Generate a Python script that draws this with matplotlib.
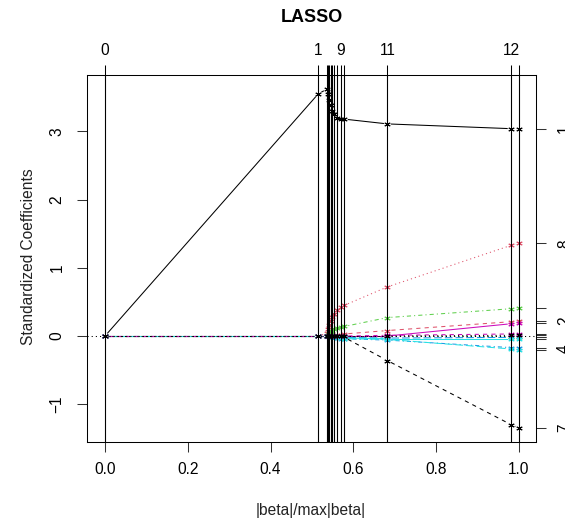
import numpy as np
import matplotlib.pyplot as plt

plt.rcParams['font.family'] = ['Liberation Sans', 'DejaVu Sans']
plt.rcParams['lines.scale_dashes'] = False

# lars steps (|beta|/max|beta|) and number of variables at each step
steps = [0, 0.515, 0.536, 0.539, 0.542, 0.545, 0.548, 0.553, 0.560, 0.569, 0.578, 0.682, 0.981, 1.0]
df = list(range(14))
df_shown = [0, 1, 9, 11, 12]

# standardized coefficients of the 13 variables along the path
b1 = [0, 3.55, 3.62, 3.55, 3.46, 3.38, 3.30, 3.25, 3.19, 3.18, 3.18, 3.11, 3.04, 3.04]
b2 = [0, 0, 0, 0, 0, 0, 0, 0, 0.01, 0.02, 0.03, 0.08, 0.21, 0.22]
b3 = [0, 0, 0, 0, 0, 0, 0, 0, 0, 0, 0, 0.0, -0.01, -0.01]
b4 = [0, 0, 0, 0, 0, -0.01, -0.02, -0.03, -0.03, -0.04, -0.04, -0.06, -0.17, -0.18]
b5 = [0, 0, 0, 0, 0, 0, -0.01, -0.02, -0.03, -0.03, -0.04, -0.05, -0.19, -0.20]
b6 = [0, 0, 0, 0, 0, 0, 0, 0, 0, 0, 0, 0.0, 0.18, 0.19]
b7 = [0, 0, 0, 0, 0, 0, 0, 0, 0, 0, -0.02, -0.36, -1.30, -1.35]
b8 = [0, 0, 0.04, 0.10, 0.16, 0.22, 0.28, 0.33, 0.38, 0.42, 0.45, 0.72, 1.33, 1.36]
b9 = [0, 0, 0, 0.02, 0.04, 0.06, 0.08, 0.10, 0.12, 0.13, 0.14, 0.27, 0.40, 0.41]
b10 = [0, 0, 0, 0, 0, 0, 0, -0.01, -0.01, -0.02, -0.02, -0.03, -0.02, -0.02]
b11 = [0, 0, 0, 0, 0, 0, 0, 0, -0.01, -0.02, -0.03, -0.04, -0.04, -0.05]
b12 = [0, 0, 0, 0, 0, 0, 0, 0, 0, 0, 0, 0.01, 0.03, 0.03]
b13 = [0, 0, 0, 0, 0, 0, 0, 0, 0, 0, 0, 0, 0.01, 0.01]
coefs = [b1, b2, b3, b4, b5, b6, b7, b8, b9, b10, b11, b12, b13]

# labels that R managed to draw on the right axis
right_shown = [1, 2, 4, 7, 8]

r_cols = ['black', '#DF536B', '#61D04F', '#2297E6', '#28E2E5', '#CD0BBC']
r_ltys = ['-', (0, (3, 3)), (0, (0.8, 2.2)), (0, (0.8, 2.2, 3, 2.2)), (0, (5.5, 2.2))]

W, H = 565, 521
fig = plt.figure(figsize=(W / 100, H / 100), dpi=100)
ax = fig.add_axes([87 / W, 1 - 442 / H, (536 - 87) / W, (442 - 75) / H])
ax.set_xlim(-0.0435, 1.041)
ax.set_ylim(-1.554, 3.827)


def gapped(x, y, gap=4):
    # R type="b": lines stop short of each point
    pts = ax.transData.transform(np.column_stack([x, y]))
    inv = ax.transData.inverted()
    segs = []
    for p, q in zip(pts[:-1], pts[1:]):
        d = q - p
        L = np.hypot(d[0], d[1])
        if L <= 2 * gap:
            continue
        u = d / L
        segs.append(inv.transform([p + u * gap, q - u * gap]))
    return segs


for i, b in enumerate(coefs):
    col = r_cols[i % 6]
    ls = r_ltys[i % 5]
    for seg in gapped(steps, b):
        ax.plot(seg[:, 0], seg[:, 1], color=col, ls=ls, lw=0.75, zorder=2)
    ax.plot(steps, b, ls='none', marker=(6, 2, 0), ms=4.5, mew=0.7, color=col, zorder=3)

ax.axhline(0, color='black', ls=(0, (0.8, 2.2)), lw=0.75, zorder=2)
for s in steps:
    ax.axvline(s, color='black', lw=0.8, zorder=4)

for sp in ax.spines.values():
    sp.set_linewidth(0.75)

xt = [0, 0.2, 0.4, 0.6, 0.8, 1.0]
ax.set_xticks(xt, ['%.1f' % v for v in xt])
ax.set_yticks([-1, 0, 1, 2, 3])
ax.tick_params(direction='out', length=7.2, width=0.75, labelsize=11.2, color='#333333')
ax.tick_params(axis='x', pad=7)
ax.tick_params(axis='y', pad=9)
for t in ax.get_yticklabels():
    t.set_rotation(90)
    t.set_va('center')

top = ax.secondary_xaxis('top')
top.set_xticks(steps, [str(d) if d in df_shown else '' for d in df])
top.tick_params(direction='out', length=7.2, width=0.75, labelsize=11.2, pad=5)
top.spines['top'].set_visible(False)

right = ax.secondary_yaxis('right')
finals = [b[-1] for b in coefs]
right.set_yticks(finals, [str(i + 1) if i + 1 in right_shown else '' for i in range(13)])
right.tick_params(direction='out', length=7.2, width=0.75, labelsize=11.2, pad=8, color='#333333')
right.spines['right'].set_visible(False)
for t in right.get_yticklabels():
    t.set_rotation(90)
    t.set_va('center')

fig.text(311.5 / W, 1 - 18 / H, 'LASSO', ha='center', va='center', fontsize=13, fontweight='bold')
fig.text(311 / W, 1 - 511 / H, '|beta|/max|beta|', ha='center', va='center', fontsize=11.2, color='#222222')
fig.text(29 / W, 1 - 257 / H, 'Standardized Coefficients', ha='center', va='center',
         rotation=90, fontsize=11.2, color='#222222')

fig.savefig('out.png', dpi=100)
